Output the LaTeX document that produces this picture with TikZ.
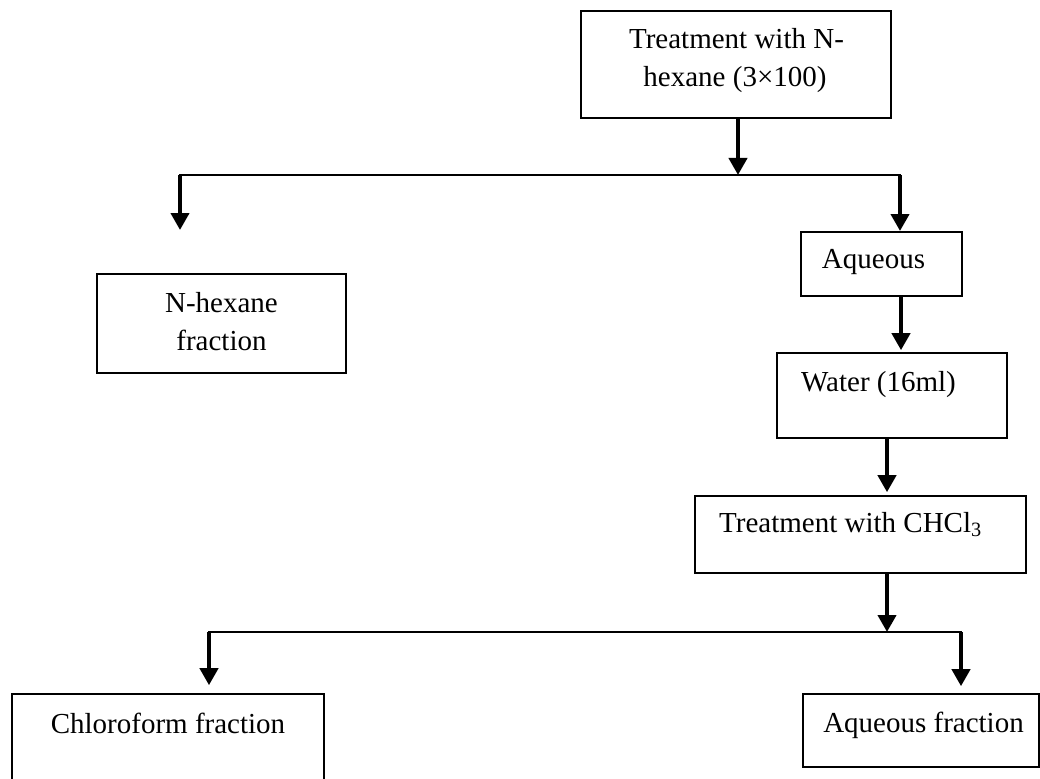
\documentclass[tikz,border=0pt]{standalone}
\usepackage{fontspec}
\setmainfont{Liberation Serif}
\usetikzlibrary{arrows.meta}
\tikzset{
  boxnode/.style={draw=black, line width=1.6pt, rectangle, inner sep=0pt, anchor=center},
  txt/.style={inner sep=0pt, anchor=base, font=\fontsize{29}{38}\selectfont},
  flowarrow/.style={line width=4pt, -{Triangle[width=18pt,length=17pt]}},
  branch/.style={line width=1.6pt, line cap=rect}
}
\begin{document}
\begin{tikzpicture}[x=1pt,y=-1pt]
\clip (0,0) rectangle (1040,778);
\fill[white] (0,0) rectangle (1040,778);
% boxes
\node[boxnode, minimum width=310pt, minimum height=107pt] (top) at (736,64.5) {};
\node[boxnode, minimum width=249pt, minimum height=99pt] (nhex) at (221.5,323.5) {};
\node[boxnode, minimum width=161pt, minimum height=64pt] (aq) at (881.5,264) {};
\node[boxnode, minimum width=230pt, minimum height=85pt] (water) at (892,395.5) {};
\node[boxnode, minimum width=331pt, minimum height=77pt] (chcl) at (860.5,534.5) {};
\node[boxnode, minimum width=312pt, minimum height=120pt] (chlf) at (168,754) {};
\node[boxnode, minimum width=236pt, minimum height=73pt] (aqf) at (921,730.5) {};
% texts
\node[txt] (t1a) at (736.5,49) {Treatment with N-};
\node[txt] (t1b) at (735,87) {hexane (3×100)};
\node[txt] (t2a) at (221.5,312) {N-hexane};
\node[txt] (t2b) at (221.5,350) {fraction};
\node[txt] (t3) at (873.5,268) {Aqueous};
\node[txt] (t4) at (878.5,391) {Water (16ml)};
\node[txt, anchor=base west] (t5) at (719,532) {Treatment with CHCl\textsubscript{3}};
\node[txt] (t6) at (168,733) {Chloroform fraction};
\node[txt] (t7) at (923.5,732) {Aqueous fraction};
% junction coordinates
\coordinate (j1) at (738,175);
\coordinate (j1l) at (180,175);
\coordinate (j1r) at (900,175);
\coordinate (nhexin) at (180,230);
\coordinate (aqin) at (900,231);
\coordinate (j2) at (887,632);
\coordinate (j2l) at (209,632);
\coordinate (j2r) at (961,632);
% connectors
\draw[flowarrow] (top.south -| j1) -- (j1);
\draw[branch] (j1l) -- (j1r);
\draw[flowarrow] (j1l) -- (nhexin);
\draw[flowarrow] (j1r) -- (aqin);
\draw[flowarrow] (aq.south -| 901,0) -- ([yshift=2pt]water.north -| 901,0);
\draw[flowarrow] (water.south -| j2) -- ([yshift=3pt]chcl.north -| j2);
\draw[flowarrow] (chcl.south -| j2) -- (j2);
\draw[branch] (j2l) -- (j2r);
\draw[flowarrow] (j2l) -- ([yshift=8pt]chlf.north -| j2l);
\draw[flowarrow] (j2r) -- ([yshift=7pt]aqf.north -| j2r);
\end{tikzpicture}
\end{document}
